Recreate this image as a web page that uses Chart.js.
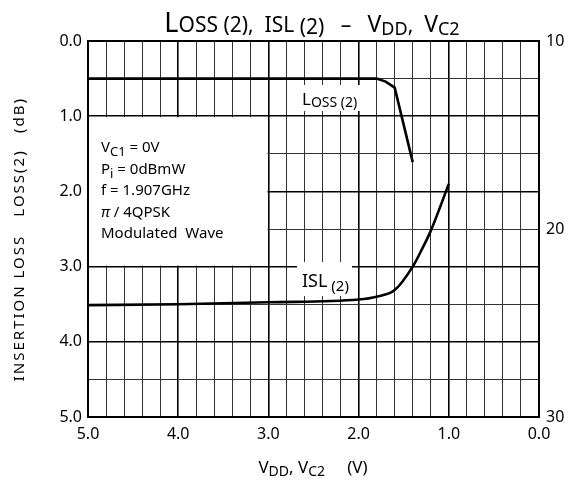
<!DOCTYPE html>
<html>
<head>
<meta charset="utf-8">
<script src="https://cdn.jsdelivr.net/npm/chart.js@4.4.1/dist/chart.umd.min.js"></script>
<style>
  html, body { margin: 0; padding: 0; background: #fff; }
  canvas { display: block; }
</style>
</head>
<body>
<canvas id="c" width="568" height="481"></canvas>
<script>
// values
const lossVolts = [5.0, 4.0, 3.0, 2.0, 1.8, 1.7, 1.6, 1.4];
const lossDb    = [0.5, 0.5, 0.5, 0.5, 0.5, 0.54, 0.62, 1.61];

const islVolts = [5.0, 4.0, 3.0, 2.0, 1.8, 1.6, 1.4, 1.3, 1.2, 1.0];
const islDb    = [24.05, 24.0, 23.9, 23.75, 23.6, 23.25, 22.0, 21.1, 20.1, 17.6];

const leftTicks  = ['0.0', '1.0', '2.0', '3.0', '4.0', '5.0'];
const rightTicks = ['10', '20', '30'];
const xTicks     = ['0.0', '1.0', '2.0', '3.0', '4.0', '5.0'];

const conditions = [
  [['V', 15, 0], ['C1', 13, 4], [' = 0V', 15, 0]],
  [['P', 15, 0], ['i', 13, 4], [' = 0dBmW', 15, 0]],
  [['f = 1.907GHz', 15, 0]],
  [['\u03c0', 15, 0, 'italic '], [' / 4QPSK', 15, 0]],
  [['Modulated  Wave', 15, 0]]
];

const FONT = '"Noto Sans", "Open Sans", sans-serif';

const isWhole = v => Math.abs(v - Math.round(v)) < 1e-6;
const pts = (xs, ys) => xs.map((x, i) => ({ x: x, y: ys[i] }));

// draw a run of text pieces [text, size, drop, style]
function drawRich(ctx, segs, x, y, align) {
  let w = 0;
  segs.forEach(s => {
    ctx.font = (s[3] || '') + s[1] + 'px ' + FONT;
    w += ctx.measureText(s[0]).width;
  });
  let cx = align === 'center' ? x - w / 2 : x;
  ctx.textAlign = 'left';
  ctx.textBaseline = 'alphabetic';
  segs.forEach(s => {
    ctx.font = (s[3] || '') + s[1] + 'px ' + FONT;
    ctx.fillText(s[0], cx, y + s[2]);
    cx += ctx.measureText(s[0]).width;
  });
}

const decor = {
  id: 'decor',
  beforeDatasetsDraw(chart) {
    const ctx = chart.ctx, x = chart.scales.x, y = chart.scales.y;
    ctx.save();
    ctx.fillStyle = '#fff';
    // condition box, from 5.0 to 3.0 V and 1.0 to 3.0 dB
    ctx.fillRect(x.getPixelForValue(5) + 1, y.getPixelForValue(1) + 1,
      x.getPixelForValue(3) - x.getPixelForValue(5) - 2, y.getPixelForValue(3) - y.getPixelForValue(1) - 2);
    // label backgrounds
    ctx.fillRect(295, 85, 75, 26);
    ctx.fillRect(297, 262, 55, 34);
    ctx.restore();
  },
  afterDraw(chart) {
    const ctx = chart.ctx, a = chart.chartArea;
    ctx.save();
    ctx.strokeStyle = '#000';
    ctx.lineWidth = 2;
    ctx.strokeRect(a.left, a.top, a.right - a.left, a.bottom - a.top);

    ctx.fillStyle = '#000';
    drawRich(ctx, [['L', 27, 0], ['OSS (2),  ', 21, 0], ['ISL', 21, 0], [' (2)', 21, 2],
      ['   \u2013   ', 21, 0], ['V', 23, 0], ['DD', 18, 3], [',  ', 21, 0], ['V', 23, 0], ['C2', 18, 3]],
      312, 32, 'center');

    drawRich(ctx, [['L', 17, 0], ['OSS (2)', 14, 2]], 302, 105, 'left');
    drawRich(ctx, [['ISL', 18, 0], [' (2)', 15, 4]], 302, 287, 'left');

    conditions.forEach((line, i) => drawRich(ctx, line, 101, 152 + i * 21.5, 'left'));

    drawRich(ctx, [['V', 17, 0], ['DD', 14, 3], [', ', 17, 0], ['V', 17, 0], ['C2', 14, 3], ['     (V)', 17, 0]],
      313, 473, 'center');

    ctx.translate(20, 0);
    ctx.rotate(-Math.PI / 2);
    ctx.font = '15px ' + FONT;
    ctx.textAlign = 'center';
    ctx.textBaseline = 'middle';
    ctx.letterSpacing = '2px';
    ctx.fillText('INSERTION LOSS', -308, 0);
    ctx.fillText('LOSS(2)', -183, 0);
    ctx.fillText('(dB)', -115, 0);
    ctx.restore();
  }
};

const gridColor = c => isWhole(c.tick.value) ? '#000' : '#333';
const gridWidth = c => isWhole(c.tick.value) ? 1.6 : 1;

new Chart(document.getElementById('c'), {
  type: 'line',
  data: {
    datasets: [
      { label: 'Loss(2)', data: pts(lossVolts, lossDb), yAxisID: 'y',
        borderColor: '#000', borderWidth: 2.6, pointRadius: 0, tension: 0, fill: false },
      { label: 'ISL(2)', data: pts(islVolts, islDb), yAxisID: 'y2',
        borderColor: '#000', borderWidth: 2.6, pointRadius: 0, cubicInterpolationMode: 'monotone', fill: false }
    ]
  },
  options: {
    responsive: false,
    animation: false,
    devicePixelRatio: 1,
    layout: { padding: { top: 41, left: 0, right: 0, bottom: 0 } },
    plugins: { legend: { display: false }, tooltip: { enabled: false }, title: { display: false } },
    scales: {
      x: {
        type: 'linear', min: 0, max: 5, reverse: true,
        afterFit: s => { s.height = 64; },
        border: { display: false },
        grid: { color: gridColor, lineWidth: gridWidth, drawTicks: false },
        ticks: {
          stepSize: 0.2, padding: 8, color: '#000', font: { size: 16, family: FONT },
          maxRotation: 0, autoSkip: false,
          callback: v => isWhole(v) ? xTicks[Math.round(v)] : ''
        }
      },
      y: {
        type: 'linear', position: 'left', min: 0, max: 5, reverse: true,
        afterFit: s => { s.width = 88; },
        border: { display: false },
        grid: { color: gridColor, lineWidth: gridWidth, drawTicks: false },
        ticks: {
          stepSize: 0.5, padding: 6, color: '#000', font: { size: 16, family: FONT }, autoSkip: false,
          callback: v => isWhole(v) ? leftTicks[Math.round(v)] : ''
        }
      },
      y2: {
        type: 'linear', position: 'right', min: 10, max: 30, reverse: true,
        afterFit: s => { s.width = 29; },
        border: { display: false },
        grid: { drawOnChartArea: false, drawTicks: false },
        ticks: {
          stepSize: 10, padding: 7, color: '#000', font: { size: 16, family: FONT },
          callback: v => rightTicks[Math.round((v - 10) / 10)]
        }
      }
    }
  },
  plugins: [decor]
});
</script>
</body>
</html>
